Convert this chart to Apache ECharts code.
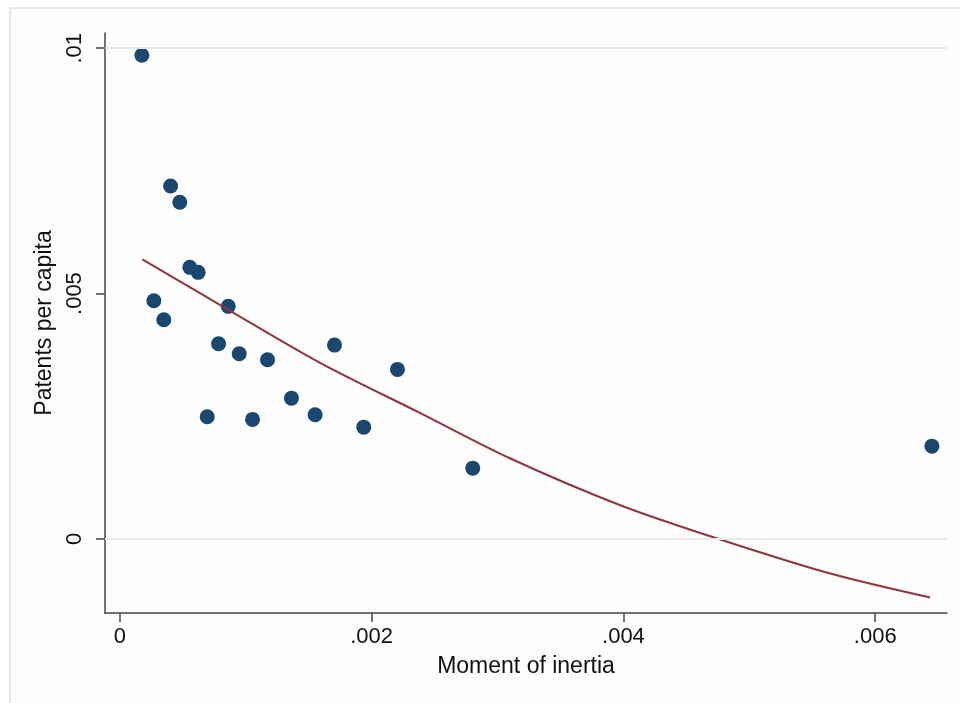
<!DOCTYPE html>
<html>
<head>
<meta charset="utf-8">
<script src="https://cdn.jsdelivr.net/npm/echarts@6/dist/echarts.min.js"></script>
<style>
  html, body { margin: 0; padding: 0; background: #fff; }
  #main { width: 960px; height: 703px; }
</style>
</head>
<body>
<div id="main"></div>
<script>
// scatter points: moment of inertia vs patents per capita
const inertia = [0.000175, 0.000270, 0.000349, 0.000403, 0.000476, 0.000556, 0.000622,
  0.000694, 0.000784, 0.000861, 0.000948, 0.001054, 0.001173, 0.001363, 0.001551,
  0.001705, 0.001937, 0.002205, 0.002803, 0.006450];
const patents = [0.009857, 0.004853, 0.004466, 0.007192, 0.006860, 0.005534, 0.005432,
  0.002488, 0.003976, 0.004739, 0.003772, 0.002435, 0.003650, 0.002869, 0.002529,
  0.003950, 0.002278, 0.003454, 0.001442, 0.001890];

// fitted curve
const fitX = [0.000178, 0.000879, 0.001594, 0.002387, 0.003102, 0.003975,
  0.004769, 0.005643, 0.006436];
const fitY = [0.005697, 0.004643, 0.003583, 0.002563, 0.001639, 0.000687,
  -0.000012, -0.000706, -0.001195];

const xTicks = [0, 0.002, 0.004, 0.006];
const yTicks = [0, 0.005, 0.01];

const fmt = v => v === 0 ? '0' : String(v).replace(/^0/, '');

const chart = echarts.init(document.getElementById('main'));

const option = {
  backgroundColor: '#ffffff',
  animation: false,
  graphic: [{
    type: 'rect',
    shape: { x: 10, y: 8, width: 1000, height: 800 },
    style: { fill: '#fdfdfd', stroke: '#e4e9ee', lineWidth: 2 },
    z: -10
  }],
  grid: { left: 105, top: 33, right: 13, bottom: 90 },
  xAxis: {
    type: 'value',
    min: -0.000118,
    max: 0.00657,
    name: 'Moment of inertia',
    nameLocation: 'middle',
    nameGap: 42,
    nameTextStyle: { fontSize: 23, color: '#111', fontFamily: 'Liberation Sans' },
    axisLine: { onZero: false, lineStyle: { color: '#444', width: 1.5 } },
    axisTick: { show: true, length: 9, customValues: xTicks, lineStyle: { color: '#444', width: 1.5 } },
    axisLabel: { customValues: xTicks, formatter: fmt, fontSize: 22, color: '#111', margin: 13,
      fontFamily: 'Liberation Sans' },
    splitLine: { show: false }
  },
  yAxis: {
    type: 'value',
    min: -0.00151,
    max: 0.01031,
    name: 'Patents per capita',
    nameLocation: 'middle',
    nameGap: 44,
    nameTextStyle: { fontSize: 23, color: '#111', fontFamily: 'Liberation Sans' },
    axisLine: { show: true, onZero: false, lineStyle: { color: '#444', width: 1.5 } },
    axisTick: { show: true, length: 9, customValues: yTicks, lineStyle: { color: '#444', width: 1.5 } },
    axisLabel: { customValues: yTicks, formatter: fmt, fontSize: 22, color: '#111', rotate: 90,
      margin: 19, fontFamily: 'Liberation Sans' },
    splitLine: { show: false }
  },
  series: [
    {
      type: 'scatter',
      data: inertia.map((x, i) => [x, patents[i]]),
      symbolSize: 15,
      itemStyle: { color: '#1a476f', opacity: 1 },
      z: 3,
      markLine: {
        silent: true,
        symbol: 'none',
        label: { show: false },
        lineStyle: { color: '#e3ebf0', width: 2, type: 'solid' },
        data: yTicks.map(v => ({ yAxis: v }))
      }
    },
    {
      type: 'line',
      data: fitX.map((x, i) => [x, fitY[i]]),
      smooth: 0.3,
      showSymbol: false,
      lineStyle: { color: '#90353b', width: 2 },
      z: 4
    }
  ]
};

chart.setOption(option);
</script>
</body>
</html>
